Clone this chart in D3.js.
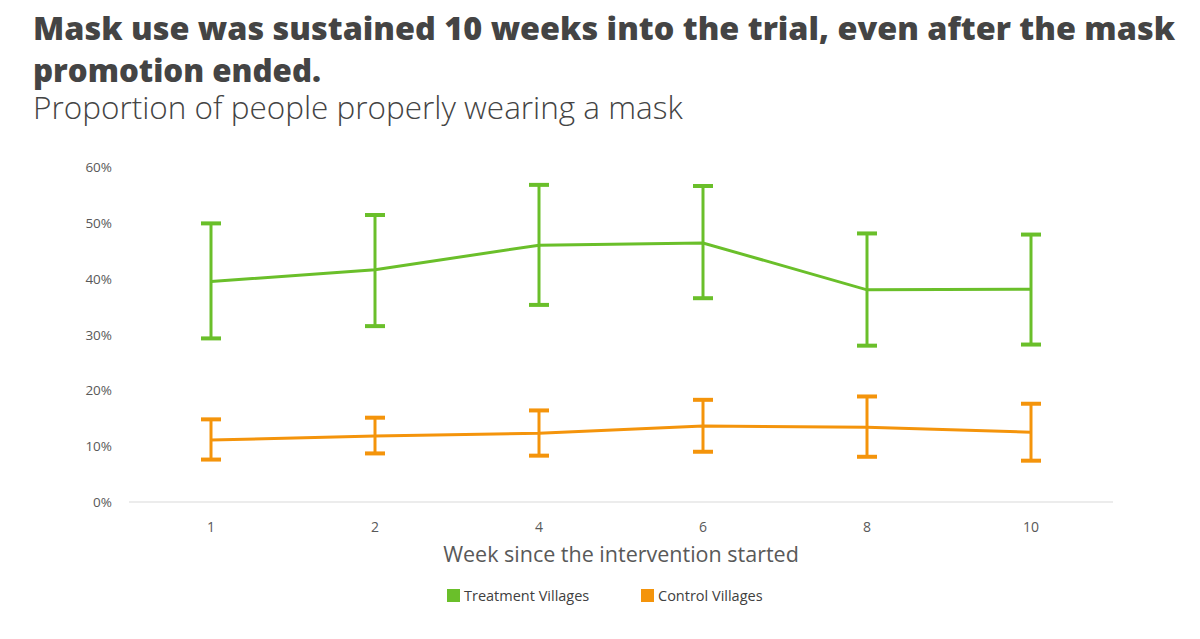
<!DOCTYPE html>
<html><head><meta charset="utf-8">
<script src="https://cdn.jsdelivr.net/npm/d3@7"></script>
<style>body{margin:0;background:#fff;font-family:"Open Sans",sans-serif}</style>
</head><body><svg id="c" width="1200" height="639"></svg>
<script>
const weeks = ["1","2","4","6","8","10"];
const treatMean = [39.5,41.6,46.0,46.4,38.0,38.1];
const treatLow  = [29.3,31.5,35.3,36.5,28.0,28.2];
const treatHigh = [49.9,51.4,56.8,56.6,48.1,47.9];
const ctrlMean = [11.1,11.8,12.3,13.6,13.4,12.5];
const ctrlLow  = [7.6,8.7,8.3,9.0,8.1,7.4];
const ctrlHigh = [14.8,15.1,16.4,18.3,18.9,17.6];
const yTicks = [0,10,20,30,40,50,60];

const svg = d3.select("#c");
const green="#6abf2a", orange="#f4940b", dark="#444";
svg.append("text").attr("x",33).attr("y",40).attr("font-size",31).attr("font-weight",800).attr("fill",dark)
  .attr("textLength",1142).attr("lengthAdjust","spacingAndGlyphs")
  .text("Mask use was sustained 10 weeks into the trial, even after the mask");
svg.append("text").attr("x",33).attr("y",82).attr("font-size",31).attr("font-weight",800).attr("fill",dark)
  .attr("textLength",288).attr("lengthAdjust","spacingAndGlyphs")
  .text("promotion ended.");
svg.append("text").attr("x",33).attr("y",119).attr("font-size",31.5).attr("font-weight",300).attr("fill",dark)
  .text("Proportion of people properly wearing a mask");

const x = d3.scaleBand().domain(weeks).range([129,1113]);
const y = d3.scaleLinear().domain([0,60]).range([502,167]);
const cx = d => x(d)+x.bandwidth()/2;

svg.append("line").attr("x1",129).attr("x2",1113).attr("y1",y(0)).attr("y2",y(0)).attr("stroke","#d9d9d9");
yTicks.forEach(t=>{
  svg.append("text").attr("x",112).attr("y",y(t)+5).attr("text-anchor","end").attr("font-size",13.5).attr("fill","#595959").text(t+"%");
});
weeks.forEach(w=>{
  svg.append("text").attr("x",cx(w)).attr("y",532).attr("text-anchor","middle").attr("font-size",14).attr("fill","#595959").text(w);
});
svg.append("text").attr("x",621).attr("y",562).attr("text-anchor","middle").attr("font-size",21.5).attr("fill","#595959").text("Week since the intervention started");

function series(mean,low,high,col){
  const line=d3.line().x((d,i)=>cx(weeks[i])).y(d=>y(d));
  svg.append("path").attr("d",line(mean)).attr("fill","none").attr("stroke",col).attr("stroke-width",3);
  weeks.forEach((w,i)=>{
    const g=svg.append("g").attr("stroke",col).attr("stroke-width",3);
    g.append("line").attr("x1",cx(w)).attr("x2",cx(w)).attr("y1",y(low[i])).attr("y2",y(high[i]));
    [low[i],high[i]].forEach(v=>g.append("line").attr("x1",cx(w)-10).attr("x2",cx(w)+10).attr("y1",y(v)).attr("y2",y(v)).attr("stroke-width",4));
  });
}
series(treatMean,treatLow,treatHigh,green);
series(ctrlMean,ctrlLow,ctrlHigh,orange);

[[447,"Treatment Villages",green],[641,"Control Villages",orange]].forEach(([lx,t,c])=>{
  svg.append("rect").attr("x",lx).attr("y",589).attr("width",13).attr("height",13).attr("fill",c);
  svg.append("text").attr("x",lx+17).attr("y",601).attr("font-size",14.5).attr("fill","#404040").text(t);
});
</script></body></html>
